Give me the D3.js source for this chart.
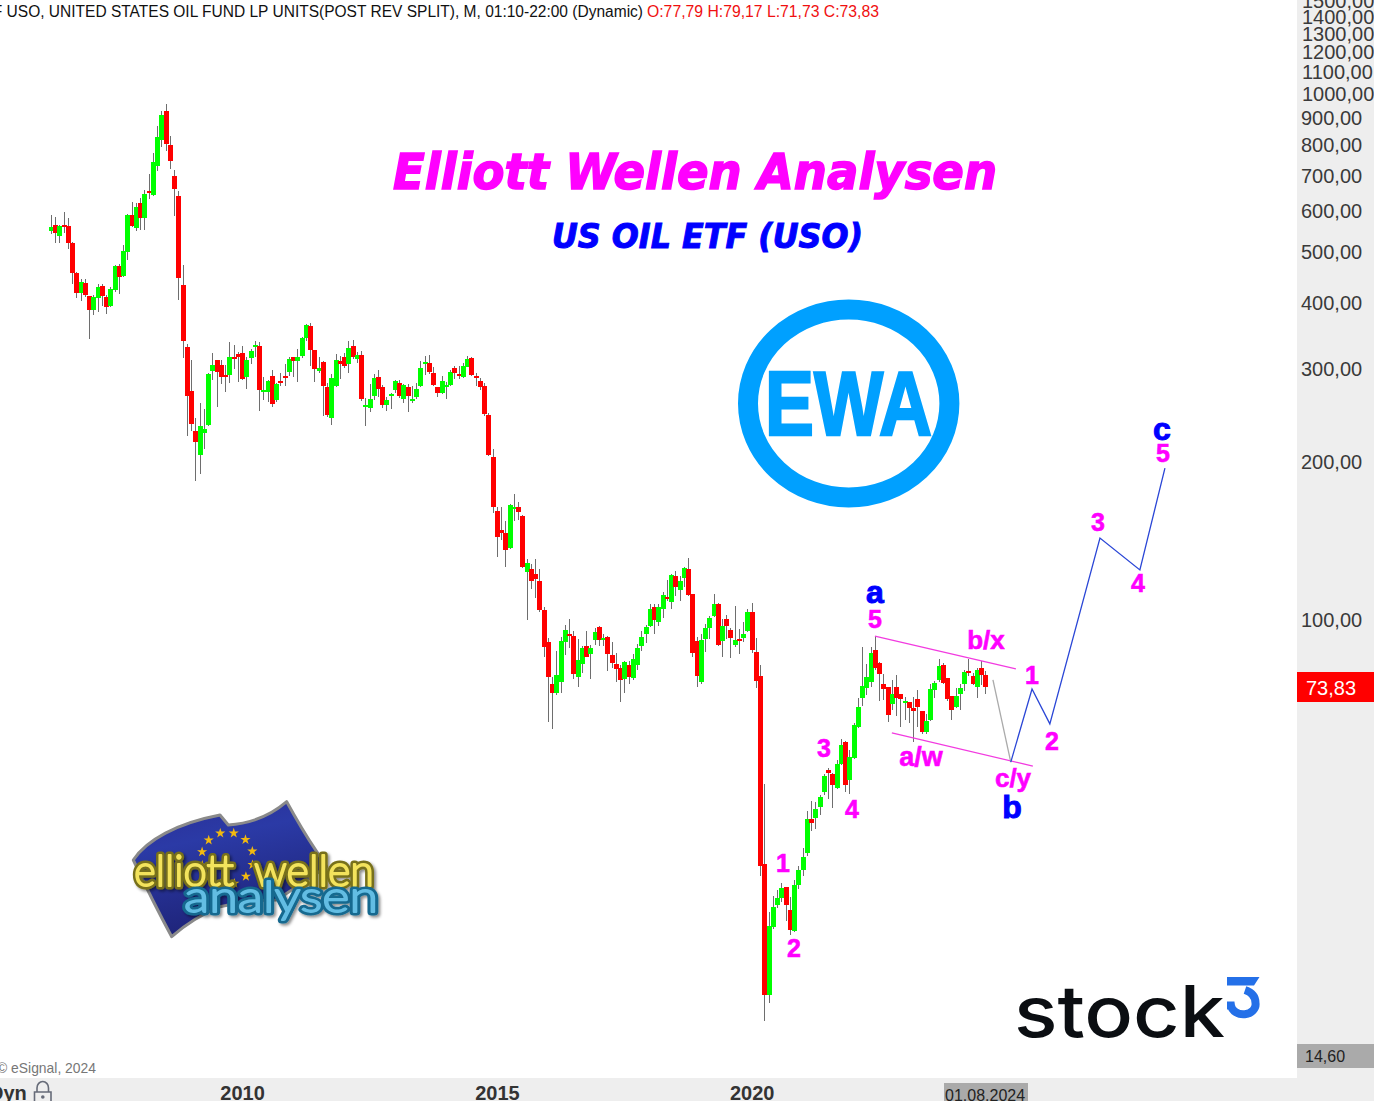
<!DOCTYPE html>
<html><head><meta charset="utf-8">
<script src="https://cdn.jsdelivr.net/npm/d3@7"></script>
<style>html,body{margin:0;padding:0;background:#fff;overflow:hidden}svg{display:block}text{font-family:"Liberation Sans",Arial,sans-serif}</style>
</head><body>
<script>
// Monthly candles, Apr 2006 .. Aug 2024 (index = months since Apr 2006)
const open=[544,558,532,558,556,516,452.5,415,433,409,
385,406,427.5,407.5,392,420,467,447,496,583,
551,615,576,648,637,723,810,919,792,692,
634,429,327,270,227,204,225,233,295,309,
303,290,290,313,317.5,319,287,312,327,329,
269,269,288,259.5,282,288,293,313,308,315,
340.5,359,323,295,307,275,240,276,308,313,
304,329,311,316,252,251,264,287,275,254,
264,271,280,261,275,258,263,276,304,305,
292,275,268,275,277,299,291,287,300,312,
288,282,276,243,202,159.7,147,145,135.9,161,
162.5,156.3,122.3,123.9,121.3,117.6,103.6,90,75,72,
75.6,90,93.2,92.4,77.3,81.8,88.4,85.4,90.8,96.1,
90.8,92,85.1,81.8,80.3,76.6,81.4,76.9,81.4,88.4,
93.2,96.6,104.9,98.3,104,109.6,107.2,120.2,113,119.1,
123.9,111.1,90.4,75.6,91.2,95.7,100.9,106.3,90.4,99.6,
94.9,88.8,91.2,91.6,94.5,102.7,86.2,77.6,34.1,19.2,
25.9,28.5,29.4,30.8,27.9,25.4,31.1,33.2,35.8,41.5,
41.7,43.7,46.7,51.4,50.5,47.5,52.8,58.2,49.2,54.2,
62,70.4,73.6,75.6,86.9,82.1,75,74,68.6,74,
71.7,68.9,69.2,67.4,70.1,66.5,60.8,64,73,76.3,
81.4,76.9,71.1,67.7,71.7,75,79.3,77.6,74,80.3,
77.79];
const close=[553,539,556,553,516,452.5,415,435,411,385,
407.5,426,409,390,422,467,445,498,583,556,
604,576,639,642,735.5,820.5,903,796,739,653.5,
443,336,264,234,216,232,229,291,303,293,
287,287,313,311,313,285,309,322,330,271,
271,282,255,278,280,286,311,308,313,340.5,
360.5,323,297,299,276,243,286,309,304,301,
326,313,316,261,254,261,286,272,254,259.5,
266.5,282,264,277,264,261,272,299,307,293,
277,268,282,277,293,292,288,301,311,290,
286,275,244,204,162.5,142.5,145,134.7,164,162.5,
159,125,127.2,117.6,118.6,103.6,88.1,77.3,72,78,
90.4,94.9,92.4,78.3,83.2,87.7,84.3,87.7,94.1,90.8,
91.6,85.4,82.1,80,76.3,82.5,77.3,83.6,87.7,92,
96.1,104,99.1,104.9,110.6,108.7,120.7,114.5,117.6,124.5,
110.6,85.8,77.6,90.8,95.7,100,106.3,88.8,96.6,96.6,
91.6,90.8,90.4,93.2,102.7,86.9,75.9,33.8,19.2,26,
28.2,29.3,30.7,28.5,25.5,31.1,33.2,35.2,41.5,40.8,
43.3,45.7,50,50.7,48.1,52.8,57.4,48.1,54.4,62.6,
67.7,74.4,77.3,85.8,80.3,78.3,73.3,65.4,71.7,70.4,
70.1,69.5,67.4,66.5,67.7,60.8,63.7,73.3,75.3,81.1,
75.3,70.1,66.8,71.1,73.6,79,78.7,75,79.7,78,
73.83];
const high=[583,578,558,591,576,518,454.5,441,441,409,
411,431,431,411,426,469,471,512,586,617,
615,628,651,698,765,861,919,948,824,710,
648,469,332,309,240,256,249.5,292,319,309,
309,303,335,330,320,329,313,324.5,336,335,
287,283,296,280,292,304,313,313,324.5,342,
362,364,323,313,308,280,291,317.5,315,319,
336,337.5,320,322,262,278,291,296,277,263,
268,283,283,278,278,276,280,308,315,316,
300,275,288,281,296,301,301,305,315,313,
292,286,280,245,210,162.5,162.5,152.9,165,172,
166,157,129.4,126.6,129.4,123.9,104.9,91.6,77.3,86.6,
92,97,99.6,94.5,91.2,88.4,94.5,88.8,95.7,96.6,
93.2,92.4,90,85.8,81.4,82.9,82.9,85.4,89.2,94.5,
97,106.3,106.3,106.3,112,118.1,121.3,122.9,120.2,125,
130,111.1,92,93.2,97.4,100.9,111.1,106.8,99.6,101.3,
95.7,105.4,95.3,98.3,104,106.8,91.6,81.4,48.3,27.6,
29.6,30.4,31.3,30.8,29.5,31.7,33.8,36.5,42.9,44.9,
44.7,46.1,50.5,51.8,50.7,53.7,58.9,58.4,56,63.2,
70.4,88.1,81.8,88.1,92.4,82.5,78.3,74,76.3,78,
71.7,70.8,69.2,70.8,73,66.5,65.7,75,75.9,83.6,
82.1,76.9,71.1,73.6,75,79.7,83.6,78.7,80.3,82.9,
79.17];
const low=[537,516,516,539,503,431,406,400,407.5,339,
377,382,392,378,390,416.5,413,445,479,553,
544,546,546,626,634,707,785,772,713,581,
402,312,222,227,182,188,210,232,283,252,
278,269,280,297,281,283,272,304,313,247,
259.5,257,252,257,276,276,288,287,281,312,
336,301,281,292,242,241,233,275,285,299,
292,311,305,258,232,246,259.5,263,251,247,
249.5,268,262,256,246,256,261,275,290,291,
276,263,266.5,261,276,285,285,286,300,288,
276,271,242,203,158.3,130.5,140.7,125,135.3,153,
153.5,124.5,99.1,113.5,109.1,102.7,84.3,63.4,61.5,71.4,
72,85.1,87.7,76.6,74,78.7,84.3,76.6,88.8,88.4,
88.4,79.3,80.3,75.6,69.2,72,75,76.3,79.7,86.6,
89.6,96.1,93.2,96.6,100,107.7,104,110.1,107.7,114.5,
110.1,84.3,74,75,86.2,91.2,100.4,88.4,84.3,91.2,
83.9,88.1,85.4,90,94.1,85.8,73.6,32.3,17.1,18.5,
25.6,28.1,28.9,26.5,25,25.3,30.6,32.3,35.3,39.4,
39.7,42.3,46.1,45.3,43.5,47.3,52.5,46.7,46.3,54,
61.8,68,71.4,74,79.7,69.5,69.8,63.4,66.8,65.1,
62,64,63.2,58.2,62,60.3,60.3,63.7,70.4,75.6,
75,69.5,64,67.4,66.8,72.6,77.6,74.7,70.4,74.7,
71.73];

// Axis ticks
const priceTicks=[100,200,300,400,500,600,700,800,900,1000,1100,1200,1300,1400,1500];
const yearTickIndex=[45,105,165];
const yearTickLabels=["2010","2015","2020"];

// Elliott wave drawings: month index + price
const channelTopIdx=[194,227.2],   channelTopPrice=[92.4,80];
const channelLowIdx=[198,231.2],   channelLowPrice=[60.5,52.3];
const greyLegIdx=[221.8,226],      greyLegPrice=[76.3,53.2];
const blueLegIdx=[226,231,235.2,247,256.4,262.3];
const blueLegPrice=[53.2,73.3,62.9,141.9,123.4,192.8];

const headerBlack="F USO, UNITED STATES OIL FUND LP UNITS(POST REV SPLIT), M, 01:10-22:00 (Dynamic)";
const headerRed="O:77,79 H:79,17 L:71,73 C:73,83";
const titleMain="Elliott Wellen Analysen";
const titleSub="US OIL ETF (USO)";
const lastLabel="73,83", lowLabel="14,60", dateLabel="01.08.2024";

const W=1374,H=1101;
const svg=d3.select("body").append("svg").attr("width",W).attr("height",H).attr("viewBox",`0 0 ${W} ${H}`);
const x=d3.scaleLinear().domain([0,220]).range([51,985.3]);
const y=d3.scaleLog().domain([100,1000]).range([618,92]);
const candles=d3.range(open.length).map(i=>({i,o:open[i],h:high[i],l:low[i],c:close[i]}));

svg.append("rect").attr("width",W).attr("height",H).attr("fill","#fff");

// --- wicks then bodies
const chart=svg.append("g").attr("shape-rendering","crispEdges");
chart.append("g").selectAll("rect").data(candles).join("rect")
 .attr("x",d=>Math.round(x(d.i))).attr("width",1)
 .attr("y",d=>Math.round(y(d.h))).attr("height",d=>Math.round(y(d.l))-Math.round(y(d.h)))
 .attr("fill","#6e6e6e");
chart.append("g").selectAll("rect").data(candles).join("rect")
 .attr("x",d=>Math.round(x(d.i))-2).attr("width",5)
 .attr("y",d=>Math.round(y(Math.max(d.o,d.c))))
 .attr("height",d=>Math.max(2,Math.round(y(Math.min(d.o,d.c)))-Math.round(y(Math.max(d.o,d.c)))))
 .attr("fill",d=>d.c>=d.o?"#00ff00":"#ff0000");

// --- wave lines
const zipLine=(a,b)=>d3.line().x((d,k)=>x(a[k])).y((d,k)=>y(b[k]))(a);
const lines=svg.append("g").attr("fill","none");
lines.append("path").attr("d",zipLine(channelTopIdx,channelTopPrice)).attr("stroke","#f23be0").attr("stroke-width",1.3);
lines.append("path").attr("d",zipLine(channelLowIdx,channelLowPrice)).attr("stroke","#f23be0").attr("stroke-width",1.3);
lines.append("path").attr("d",zipLine(greyLegIdx,greyLegPrice)).attr("stroke","#aaaaaa").attr("stroke-width",1.3);
lines.append("path").attr("d",zipLine(blueLegIdx,blueLegPrice)).attr("stroke","#2a46d6").attr("stroke-width",1.3);

// --- wave labels
const M="#ff00ff",B="#0000ff";
const lab=(t,px,py,size,fill)=>svg.append("text").attr("x",px).attr("y",py).attr("text-anchor","middle")
 .attr("font-size",size).attr("font-weight",700).attr("fill",fill).attr("stroke",fill).attr("stroke-width",size>28?1:.6).text(t);
lab("a",875,603,32,B);lab("5",875,628,25,M);lab("b/x",986,649,26,M);
lab("1",1032,684,25,M);lab("2",1052,750,25,M);lab("3",1098,531,25,M);lab("4",1138,592,25,M);
lab("5",1163,462,25,M);lab("c",1162,440,32,B);lab("a/w",921,766,27,M);lab("c/y",1013,787,26,M);lab("b",1012,818,32,B);
lab("1",783,872,25,M);lab("2",794,957,25,M);lab("3",824,757,25,M);lab("4",852,818,25,M);

// --- titles
svg.append("text").attr("x",393).attr("y",189).attr("font-size",50).attr("font-weight",700).attr("font-style","italic")
 .style("font-family",'"DejaVu Sans",sans-serif').attr("fill","#ff00ff").attr("stroke","#ff00ff").attr("stroke-width",1.6)
 .attr("textLength",604).attr("lengthAdjust","spacingAndGlyphs").text(titleMain);
svg.append("text").attr("x",552).attr("y",248).attr("font-size",33).attr("font-weight",700).attr("font-style","italic")
 .style("font-family",'"DejaVu Sans",sans-serif').attr("fill","#0000ff").attr("stroke","#0000ff").attr("stroke-width",1)
 .attr("textLength",311).attr("lengthAdjust","spacingAndGlyphs").text(titleSub);

// --- EWA emblem
const EWA="#00a0ff";
const ewa=svg.append("g");
ewa.append("ellipse").attr("cx",848.7).attr("cy",403.5).attr("rx",100.7).attr("ry",94).attr("fill","#fff").attr("stroke",EWA).attr("stroke-width",20);
ewa.append("text").attr("x",765).attr("y",435).attr("font-size",90).attr("font-weight",700)
 .attr("fill",EWA).attr("stroke",EWA).attr("stroke-width",2.5).attr("textLength",167).attr("lengthAdjust","spacingAndGlyphs").text("EWA");

// --- Elliott Wellen logo
const defs=svg.append("defs");
const fg=defs.append("linearGradient").attr("id","flag").attr("x1",0).attr("y1",0).attr("x2",.3).attr("y2",1);
fg.append("stop").attr("offset",0).attr("stop-color","#2a2f96");
fg.append("stop").attr("offset",.35).attr("stop-color","#2b3aa6");
fg.append("stop").attr("offset",1).attr("stop-color","#1e2378");
const sh=defs.append("filter").attr("id","sh").attr("x","-10%").attr("y","-10%").attr("width","120%").attr("height","130%");
sh.append("feDropShadow").attr("dx",2).attr("dy",2).attr("stdDeviation",1.5).attr("flood-color","#000").attr("flood-opacity",.45);
const logo=svg.append("g");
logo.append("path").attr("d","M133.3,860 C146.7,840 176.7,823.3 220,815 L228.3,825 C253.3,823.3 273.3,813.3 286.7,801.7 C296.7,820 306.7,836.7 316.7,851.7 L326.7,866.7 L276.7,900 C255,900 240,902 220,906.7 C200,915 185,925 171.7,936.7 C160,915 145,885 133.3,860 Z")
 .attr("fill","url(#flag)").attr("stroke","#8a8a8a").attr("stroke-width",3).attr("stroke-linejoin","round");
const star=d3.symbol().type(d3.symbolStar).size(32)();
const starSteps=d3.range(12);
logo.append("g").selectAll("path").data(starSteps).join("path").attr("d",star).attr("fill","#f2b90f")
 .attr("transform",s=>{const a=s*Math.PI/6+.25;return `translate(${227.3+26*Math.sin(a)},${858.3-26*Math.cos(a)})`;});
const glow=(t,px,py,len,dark,light)=>{
 const g=logo.append("g").attr("filter","url(#sh)");
 const mk=()=>g.append("text").attr("x",px).attr("y",py).attr("font-size",44).attr("font-weight",300).style("font-family","Lato,sans-serif")
  .attr("textLength",len).attr("lengthAdjust","spacingAndGlyphs").attr("stroke-linejoin","round").text(t);
 mk().attr("fill",dark).attr("stroke",dark).attr("stroke-width",7);
 mk().attr("fill",light).attr("stroke",light).attr("stroke-width",1.8);
};
glow("elliott",134,886,100,"#77701a","#f3e35c");
glow("wellen",254,886,120,"#77701a","#f3e35c");
glow("analysen",184,912,194,"#14698f","#63bde3");

// --- stock3 logo
svg.append("text").attr("x",1014).attr("y",1037).attr("font-size",71).attr("font-weight",500)
 .style("font-family","Inter,sans-serif").attr("fill","#0b0e12").attr("textLength",211).attr("lengthAdjust","spacingAndGlyphs").text("stock");
svg.append("path").attr("d","M1227,977 L1259.5,977 L1254,985.5 L1227,985.5 Z").attr("fill","#2470e8");
svg.append("path").attr("d","M1227,1005.5 L1231,1005.5 A12.3,10 0 0 0 1255.5,1003 C1255.5,996 1251,992 1245,990").attr("fill","none").attr("stroke","#2470e8").attr("stroke-width",8);

// --- panels and axes
svg.append("rect").attr("x",1297).attr("y",0).attr("width",77).attr("height",H).attr("fill","#eeeeee");
svg.append("rect").attr("x",0).attr("y",1078).attr("width",W).attr("height",23).attr("fill","#eeeeee");

const yAxis=d3.axisRight(y).tickValues(priceTicks).tickSize(0).tickPadding(4)
 .tickFormat(d=>d.toFixed(2).replace(".",","));
const ga=svg.append("g").attr("transform","translate(1297,0)").call(yAxis);
ga.select(".domain").remove();
ga.selectAll("text").attr("font-size",20).attr("fill","#3a3a3a").style("font-family",'"Liberation Sans",Arial,sans-serif').attr("dy","0.43em");
ga.selectAll("g.tick text").attr("x",d=>d>=1000?5:4);

const xAxis=d3.axisBottom(x).tickValues(yearTickIndex).tickSize(0).tickPadding(8).tickFormat((d,k)=>yearTickLabels[k]);
const gx=svg.append("g").attr("transform","translate(0,1078)").call(xAxis);
gx.select(".domain").remove();
gx.selectAll("text").attr("font-size",20).attr("font-weight",700).attr("fill","#333").style("font-family",'"Liberation Sans",Arial,sans-serif');

// last price, low, date boxes
svg.append("rect").attr("x",1297).attr("y",672).attr("width",77).attr("height",30).attr("fill","#ff0000");
svg.append("text").attr("x",1306).attr("y",694.5).attr("font-size",20).attr("fill","#fff").text(lastLabel);
svg.append("rect").attr("x",1297).attr("y",1044).attr("width",77).attr("height",24).attr("fill","#aaaaaa");
svg.append("text").attr("x",1305).attr("y",1062).attr("font-size",16).attr("fill","#222").text(lowLabel);
svg.append("rect").attr("x",944).attr("y",1083).attr("width",84).attr("height",18).attr("fill","#aaaaaa");
svg.append("text").attr("x",945).attr("y",1100.5).attr("font-size",16).attr("fill","#222").text(dateLabel);

// header
svg.append("text").attr("x",-7.2).attr("y",17).attr("font-size",16).attr("fill","#111").attr("textLength",650.2).attr("lengthAdjust","spacingAndGlyphs").text(headerBlack);
svg.append("text").attr("x",647).attr("y",17).attr("font-size",16).attr("fill","#f01010").attr("textLength",232).attr("lengthAdjust","spacingAndGlyphs").text(headerRed);

// footer
svg.append("text").attr("x",-3).attr("y",1073).attr("font-size",14.5).attr("fill","#777").attr("textLength",99).attr("lengthAdjust","spacingAndGlyphs").text("© eSignal, 2024");
svg.append("text").attr("x",-11).attr("y",1100).attr("font-size",20).attr("font-weight",700).attr("fill","#333").text("Dyn");
const lock=svg.append("g").attr("fill","none").attr("stroke","#666b78").attr("stroke-width",1.6);
lock.append("path").attr("d","M34.5,1102 V1092 H51 V1102");
lock.append("path").attr("d","M37,1092 V1088 A5.7,6.5 0 0 1 48.5,1088 V1092");
svg.append("circle").attr("cx",42.8).attr("cy",1097).attr("r",1.8).attr("fill","#666b78");
</script>
</body></html>
